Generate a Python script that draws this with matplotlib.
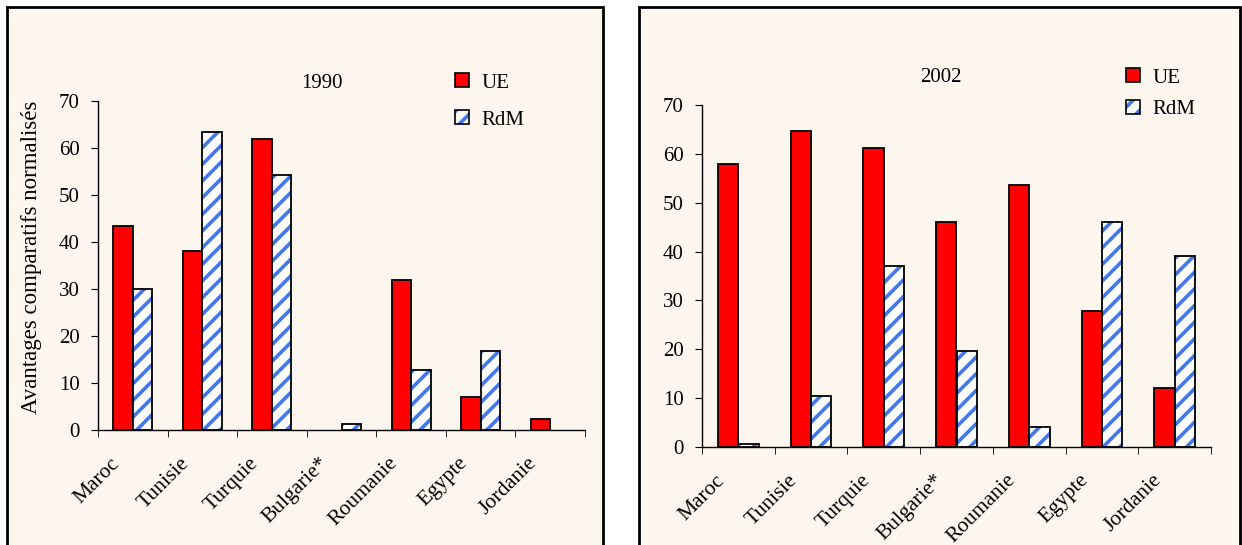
import numpy as np
import matplotlib
matplotlib.use("Agg")
import matplotlib.pyplot as plt
from matplotlib.patches import Rectangle, Patch
from matplotlib.transforms import ScaledTranslation

plt.rcParams['font.family'] = ['Liberation Serif', 'DejaVu Serif']
plt.rcParams['hatch.linewidth'] = 2.6

pays = ['Maroc', 'Tunisie', 'Turquie', 'Bulgarie*', 'Roumanie', 'Egypte', 'Jordanie']

ue_1990 = [43.5, 38.0, 62.0, 0.0, 32.0, 7.0, 2.3]
rdm_1990 = [30.0, 63.3, 54.2, 1.3, 12.8, 16.8, 0.0]

ue_2002 = [58.0, 64.7, 61.2, 46.0, 53.6, 27.8, 12.0]
rdm_2002 = [0.6, 10.4, 37.1, 19.6, 4.1, 46.0, 39.1]

rouge = '#ff0000'
bleu = '#4477ee'
creme = '#fdf6ef'

W, H = 1242, 545
fig = plt.figure(figsize=(W / 100, H / 100), dpi=100)
fig.patch.set_facecolor('white')


def px(x0, y0, x1, y1):
    # pixel box -> figure fraction [left, bottom, width, height]
    return [x0 / W, 1 - y1 / H, (x1 - x0) / W, (y1 - y0) / H]


# cadres des deux panneaux
for (x0, x1) in [(7, 603), (639, 1240)]:
    fig.patches.append(Rectangle((x0 / W, -0.05), (x1 - x0) / W, 1.05 - 7 / H,
                                 transform=fig.transFigure, facecolor=creme,
                                 edgecolor='black', linewidth=2, zorder=-10))


def panel(box, ue, rdm, annee, titre_pos, leg_pos, leg_sp, ylabel=None):
    ax = fig.add_axes(px(*box))
    ax.set_facecolor('none')
    x = np.arange(len(pays))
    w = 0.28
    ue = np.array(ue)
    rdm = np.array(rdm)
    # les barres nulles ne sont pas dessinées
    m_ue = ue > 0
    m_rdm = rdm > 0
    ax.bar(x[m_ue] - w / 2, ue[m_ue], w, color=rouge, edgecolor='black', linewidth=1.3, zorder=3)
    ax.bar(x[m_rdm] + w / 2, rdm[m_rdm], w, color='white', edgecolor=bleu, hatch='//',
           linewidth=0, zorder=3)
    ax.bar(x[m_rdm] + w / 2, rdm[m_rdm], w, color='none', edgecolor='black',
           linewidth=1.3, zorder=4)

    ax.set_xlim(-0.5, len(pays) - 0.5)
    ax.set_ylim(0, 70)
    ax.set_yticks(range(0, 71, 10))
    for s in ['top', 'right']:
        ax.spines[s].set_visible(False)
    for s in ['left', 'bottom']:
        ax.spines[s].set_linewidth(1.0)
        ax.spines[s].set_zorder(5)
    ax.tick_params(axis='y', direction='out', length=5, labelsize=15, pad=8)

    ax.set_xticks(np.arange(-0.5, len(pays), 1.0), minor=True)
    ax.set_xticks(x)
    ax.tick_params(axis='x', which='major', length=0, pad=0)
    ax.tick_params(axis='x', which='minor', direction='out', length=5)
    ax.set_xticklabels(pays, rotation=45, ha='right', va='top',
                       rotation_mode='anchor', fontsize=15.5)
    off = ScaledTranslation(-0.23, -0.24, fig.dpi_scale_trans)
    for lab in ax.get_xticklabels():
        lab.set_transform(lab.get_transform() + off)

    if ylabel:
        ax.set_ylabel(ylabel, fontsize=16.5)
        ax.yaxis.set_label_coords(-0.115, 0.525)

    fig.text(titre_pos[0] / W, 1 - titre_pos[1] / H, annee, fontsize=15,
             ha='center', va='center')

    handles = [Patch(facecolor=rouge, edgecolor='black', linewidth=1.2),
               (Patch(facecolor='white', edgecolor=bleu, hatch='//', linewidth=0),
                Patch(facecolor='none', edgecolor='black', linewidth=1.2))]
    ax.legend(handles, ['UE', 'RdM'], loc='upper left',
              bbox_to_anchor=(leg_pos[0] / W, 1 - leg_pos[1] / H),
              bbox_transform=fig.transFigure, frameon=False, fontsize=15,
              handlelength=0.65, handleheight=0.65, handletextpad=0.6,
              labelspacing=leg_sp, borderpad=0)
    return ax


panel((98, 101, 585, 430), ue_1990, rdm_1990, '1990', (322, 83), (445, 63), 0.85,
      ylabel='Avantages comparatifs normalisés')
panel((702, 105, 1211, 447), ue_2002, rdm_2002, '2002', (941, 77), (1116, 58), 0.6)

fig.savefig('out.png', dpi=100)
